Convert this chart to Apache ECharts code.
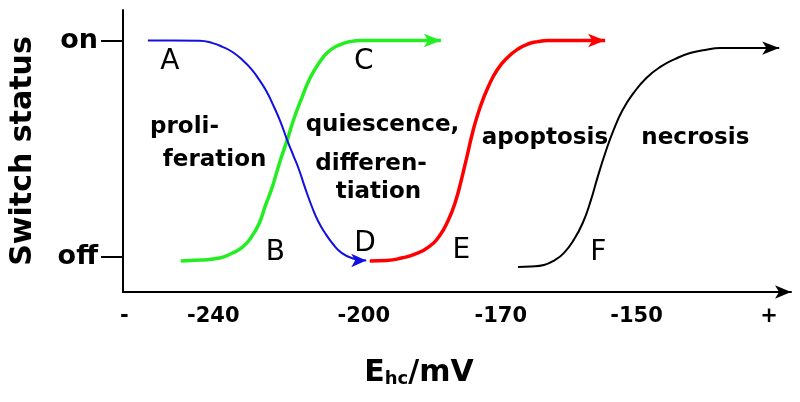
<!DOCTYPE html>
<html>
<head>
<meta charset="utf-8">
<script src="https://cdn.jsdelivr.net/npm/echarts@6/dist/echarts.min.js"></script>
<style>
  html, body { margin: 0; padding: 0; background: #fff; }
  #main { width: 800px; height: 402px; }
</style>
</head>
<body>
<div id="main"></div>
<script>
// x is a unitless position along the E_hc axis, y: 0 = off, 1 = on
var xTickPos = [0.2, 13.5, 36.0, 56.5, 76.8, 96.6];
var xTickLabels = ['-', '-240', '-200', '-170', '-150', '+'];
var yTickPos = [0, 1];
var yTickLabels = ['off', 'on'];

var blueX = [3.72, 7.44, 11.46, 13.39, 14.88, 16.37, 17.86, 19.20, 20.39, 21.43, 22.32, 23.51,
  24.55, 25.45, 26.34, 27.23, 28.27, 29.17, 30.21, 31.40, 32.74, 34.38, 36.38];
var blueY = [1.0, 1.0, 0.999, 0.988, 0.971, 0.947, 0.910, 0.868, 0.818, 0.767, 0.711, 0.628,
  0.540, 0.471, 0.402, 0.319, 0.231, 0.166, 0.111, 0.060, 0.018, -0.007, -0.016];
var greenX = [8.63, 11.61, 14.43, 16.07, 17.86, 19.20, 20.39, 21.28, 22.32, 23.36, 24.55, 25.60,
  26.79, 27.98, 29.32, 30.65, 32.29, 33.93, 35.71, 38.69, 41.67, 44.64, 47.54];
var greenY = [-0.018, -0.014, -0.005, 0.014, 0.046, 0.092, 0.157, 0.236, 0.323, 0.430, 0.540, 0.642,
  0.739, 0.827, 0.896, 0.947, 0.979, 0.995, 1.0, 1.0, 1.0, 1.0, 1.0];
var redX = [36.90, 39.43, 41.67, 43.75, 45.68, 47.32, 48.66, 49.70, 50.60, 51.49, 52.38, 53.42,
  54.61, 55.95, 57.59, 59.08, 60.57, 62.05, 63.54, 66.22, 69.20, 72.10];
var redY = [-0.018, -0.016, -0.005, 0.014, 0.046, 0.097, 0.171, 0.254, 0.356, 0.471, 0.587, 0.693,
  0.785, 0.864, 0.924, 0.961, 0.984, 0.995, 1.0, 1.0, 1.0, 1.0];
var blackX = [59.08, 61.01, 62.95, 64.58, 65.92, 67.41, 68.75, 69.94, 70.98, 72.17, 73.36, 74.70,
  76.34, 78.27, 80.36, 82.59, 84.82, 87.05, 89.29, 92.26, 95.24, 98.14];
var blackY = [-0.046, -0.044, -0.037, -0.014, 0.018, 0.079, 0.157, 0.259, 0.369, 0.485, 0.586, 0.678,
  0.757, 0.827, 0.878, 0.915, 0.942, 0.956, 0.965, 0.965, 0.965, 0.965];

var letters = ['A', 'B', 'C', 'D', 'E', 'F'];
var letterX = [7.0, 22.8, 36.0, 36.2, 50.6, 71.1];
var letterY = [0.90, 0.02, 0.90, 0.06, 0.03, 0.02];

var stages = ['proli-', 'feration', 'quiescence,', 'differen-', 'tiation', 'apoptosis', 'necrosis'];
var stageX = [9.2, 13.7, 38.8, 37.1, 38.2, 63.1, 85.6];
var stageY = [0.60, 0.45, 0.61, 0.43, 0.30, 0.55, 0.55];

var FONT = '"DejaVu Sans", "Liberation Sans", Arial, sans-serif';

function curve(xs, ys, arrow) {
  return xs.map(function (x, i) {
    var item = { value: [x, ys[i]] };
    if (i === xs.length - 1) {
      item.symbol = 'arrow';
      item.symbolSize = arrow;
      item.symbolRotate = -90;
    }
    return item;
  });
}

function labels(names, xs, ys) {
  return names.map(function (n, i) {
    return { name: n, value: [xs[i], ys[i]] };
  });
}

function lineSeries(data, color, width) {
  return {
    type: 'line',
    data: data,
    smooth: 0.5,
    symbol: 'none',
    showSymbol: true,
    lineStyle: { color: color, width: width },
    itemStyle: { color: color },
    animation: false,
    z: 3
  };
}

function textSeries(data, size, weight) {
  return {
    type: 'scatter',
    data: data,
    symbolSize: 0,
    silent: true,
    itemStyle: { opacity: 1 },
    label: {
      show: true,
      position: 'inside',
      formatter: '{b}',
      fontFamily: FONT,
      fontSize: size,
      fontWeight: weight,
      color: '#000',
      opacity: 1
    },
    z: 4
  };
}

var chart = echarts.init(document.getElementById('main'));
chart.setOption({
  backgroundColor: '#fff',
  animation: false,
  grid: { left: 120, right: 9, top: 10, bottom: 110 },
  xAxis: {
    type: 'value',
    min: 0,
    max: 99.9,
    axisLine: {
      show: true,
      onZero: false,
      symbol: ['none', 'arrow'],
      symbolSize: [10, 16],
      lineStyle: { color: '#000', width: 2 }
    },
    axisTick: { show: false },
    splitLine: { show: false },
    axisLabel: {
      customValues: xTickPos,
      margin: 14,
      fontFamily: FONT,
      fontSize: 21,
      fontWeight: 'bold',
      color: '#000',
      formatter: function (v) {
        var i = xTickPos.indexOf(v);
        return i >= 0 ? xTickLabels[i] : '';
      }
    },
    name: '{e|E}{s|hc}{e|/mV}',
    nameLocation: 'middle',
    nameGap: 62,
    nameTextStyle: {
      padding: [0, 76, 0, 0],
      rich: {
        e: { fontFamily: FONT, fontSize: 30, fontWeight: 'bold', color: '#000', lineHeight: 34, verticalAlign: 'bottom' },
        s: { fontFamily: FONT, fontSize: 18, fontWeight: 'bold', color: '#000', lineHeight: 22, verticalAlign: 'bottom' }
      }
    }
  },
  yAxis: {
    type: 'value',
    min: -0.1617,
    max: 1.141,
    axisLine: { show: true, onZero: false, lineStyle: { color: '#000', width: 2 } },
    axisTick: {
      show: true,
      customValues: yTickPos,
      length: 22,
      lineStyle: { color: '#000', width: 2 }
    },
    splitLine: { show: false },
    axisLabel: {
      customValues: yTickPos,
      margin: 25,
      fontFamily: FONT,
      fontSize: 27,
      fontWeight: 'bold',
      color: '#000',
      formatter: function (v) {
        var i = yTickPos.indexOf(v);
        return i >= 0 ? yTickLabels[i] : '';
      }
    },
    name: 'Switch status',
    nameLocation: 'middle',
    nameGap: 85,
    nameTextStyle: { fontFamily: FONT, fontSize: 30, fontWeight: 'bold', color: '#000' }
  },
  series: [
    lineSeries(curve(greenX, greenY, [10, 17]), '#22ee22', 3.5),
    lineSeries(curve(blueX, blueY, [10, 15]), '#1010e0', 2),
    lineSeries(curve(redX, redY, [10, 17]), '#ff0000', 3.5),
    lineSeries(curve(blackX, blackY, [10, 17]), '#000000', 2),
    textSeries(labels(letters, letterX, letterY), 28, 'normal'),
    textSeries(labels(stages, stageX, stageY), 23, 'bold')
  ]
});
</script>
</body>
</html>
